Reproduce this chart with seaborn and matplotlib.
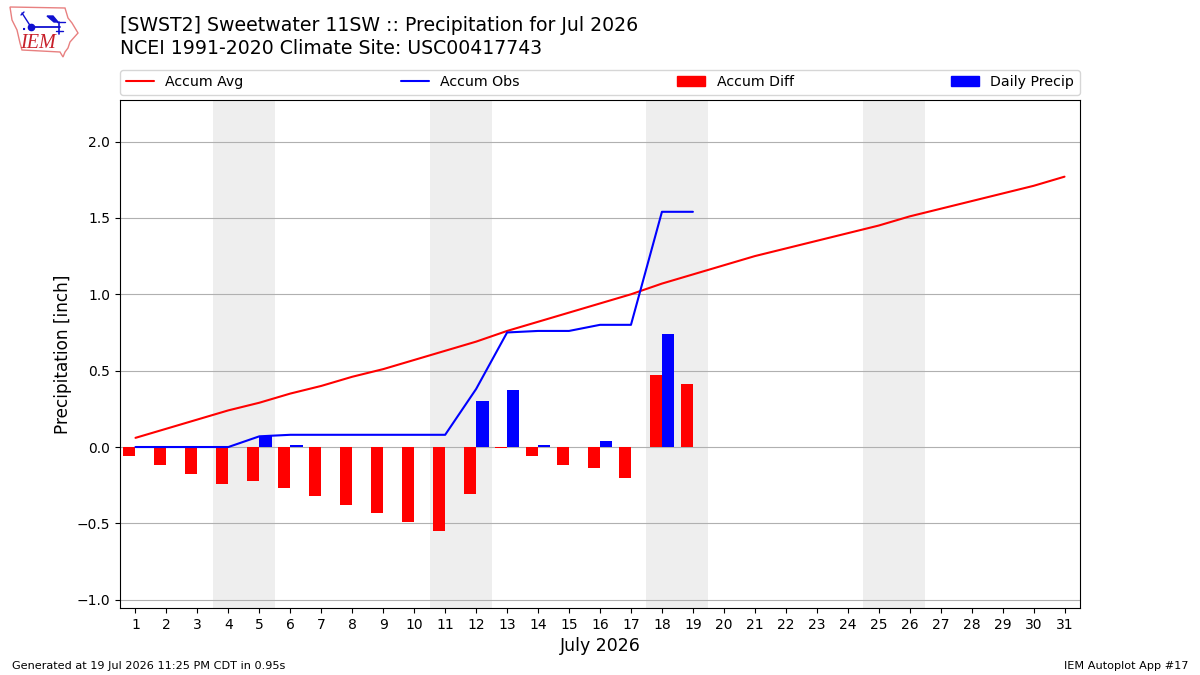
import numpy as np
import pandas as pd
import seaborn as sns
import matplotlib
matplotlib.use("Agg")
import matplotlib.pyplot as plt
from matplotlib.patches import Polygon

# Accumulated precipitation, inches, by day of July 2026
days = list(range(1, 32))
accum_avg = [0.06, 0.12, 0.18, 0.24, 0.29, 0.35, 0.40, 0.46, 0.51, 0.57, 0.63,
             0.69, 0.76, 0.82, 0.88, 0.94, 1.00, 1.07, 1.13, 1.19, 1.25, 1.30,
             1.35, 1.40, 1.45, 1.51, 1.56, 1.61, 1.66, 1.71, 1.77]
obs_days = list(range(1, 20))
accum_obs = [0.00, 0.00, 0.00, 0.00, 0.07, 0.08, 0.08, 0.08, 0.08, 0.08, 0.08,
             0.38, 0.75, 0.76, 0.76, 0.80, 0.80, 1.54, 1.54]
accum_diff = [-0.06, -0.12, -0.175, -0.24, -0.22, -0.27, -0.32, -0.38, -0.43,
              -0.49, -0.55, -0.31, -0.005, -0.06, -0.12, -0.14, -0.20, 0.47, 0.41]
daily_precip = [0.00, 0.00, 0.00, 0.00, 0.07, 0.01, 0.00, 0.00, 0.00, 0.00, 0.00,
                0.30, 0.375, 0.01, 0.00, 0.04, 0.00, 0.74, 0.00]
weekend_starts = [4, 11, 18, 25]

sns.set_theme(style="white", rc={"font.family": "DejaVu Sans"})
fig = plt.figure(figsize=(12, 6.75), dpi=100)
ax = fig.add_axes([0.1, 1 - 608 / 675, 0.8, 508 / 675])

# Weekend shading
for start in weekend_starts:
    ax.axvspan(start - 0.5, start + 1.5, color="#eeeeee", lw=0, zorder=0.1)

bars = pd.DataFrame({
    "day": obs_days * 2,
    "value": accum_diff + daily_precip,
    "series": ["Accum Diff"] * len(obs_days) + ["Daily Precip"] * len(obs_days),
})
sns.barplot(data=bars, x="day", y="value", hue="series", native_scale=True,
            palette={"Accum Diff": "red", "Daily Precip": "blue"},
            hue_order=["Accum Diff", "Daily Precip"], width=0.8, gap=0,
            saturation=1, errorbar=None, legend=False, ax=ax, zorder=2,
            linewidth=0)
sns.lineplot(x=days, y=accum_avg, color="red", lw=1.5, ax=ax, zorder=3,
             label="Accum Avg", errorbar=None)
sns.lineplot(x=obs_days, y=accum_obs, color="blue", lw=1.5, ax=ax, zorder=3,
             label="Accum Obs", errorbar=None)

ax.set_xlim(0.5, 31.5)
ax.set_ylim(-1.054, 2.272)
ax.set_xticks(days)
ax.set_xticklabels([str(d) for d in days])
ax.set_yticks([-1.0, -0.5, 0.0, 0.5, 1.0, 1.5, 2.0])
ax.tick_params(axis="both", labelsize=10, length=3.5, width=0.8, left=True,
               bottom=True, color="black", labelcolor="black", pad=3.5)
ax.set_axisbelow(True)
ax.grid(axis="y", color="#b0b0b0", lw=0.8)
ax.grid(axis="x", visible=False)
for spine in ax.spines.values():
    spine.set_color("black")
    spine.set_linewidth(0.8)
ax.set_xlabel("July 2026", fontsize=12.5, color="black", labelpad=4)
ax.set_ylabel("Precipitation [inch]", fontsize=12.2, color="black", labelpad=3)

line_handles, line_labels = ax.get_legend_handles_labels()
patch_handles = [plt.Rectangle((0, 0), 1, 1, color="red"),
                 plt.Rectangle((0, 0), 1, 1, color="blue")]
ax.legend(line_handles + patch_handles, line_labels + ["Accum Diff", "Daily Precip"],
          loc="lower left", bbox_to_anchor=(0, 1 + 5 / 508, 1, 0.05), ncol=4, mode="expand",
          borderaxespad=0, fontsize=10.2, frameon=True, framealpha=0.8,
          edgecolor="#cccccc", labelcolor="black")

fig.text(0.1, 1 - 31 / 675, "[SWST2] Sweetwater 11SW :: Precipitation for Jul 2026",
         fontsize=13.6, color="black", va="baseline", ha="left")
fig.text(0.1, 1 - 54 / 675, "NCEI 1991-2020 Climate Site: USC00417743",
         fontsize=13.6, color="black", va="baseline", ha="left")
fig.text(0.01, 1 - 669 / 675, "Generated at 19 Jul 2026 11:25 PM CDT in 0.95s",
         fontsize=8.1, color="black", va="baseline", ha="left")
fig.text(0.99, 1 - 669 / 675, "IEM Autoplot App #17",
         fontsize=8.1, color="black", va="baseline", ha="right")

# Iowa outline logo with a small weather-station glyph, in pixel coordinates
logo = fig.add_axes([0, 1 - 60 / 675, 80 / 1200, 60 / 675])
logo.set_xlim(0, 80)
logo.set_ylim(60, 0)
logo.axis("off")
outline = [(10, 7), (65, 8), (68, 18), (72, 23), (78, 33), (70, 42), (68, 48),
           (65, 52), (63, 57), (60, 52), (22, 50), (20, 43), (17, 30), (12, 20)]
logo.add_patch(Polygon(outline, closed=True, fill=False, ec="#e88080", lw=1))
logo.plot([31, 60], [27, 27], color="#1010d0", lw=1.3)
logo.plot([59, 59], [22, 34], color="#1010d0", lw=1.2)
logo.plot([22, 31], [13, 27], color="#1010d0", lw=1)
logo.plot([21, 24], [15, 12], color="#1010d0", lw=1)
logo.plot([57, 65], [22, 22], color="#1010d0", lw=1)
logo.plot([56, 63], [31, 31], color="#1010d0", lw=1)
logo.plot([31], [27], "o", color="#1010d0", ms=4.5)
logo.plot([23, 27], [29, 29], ":", color="#1010d0", lw=1.5)
logo.add_patch(Polygon([(47, 16), (53, 16), (58, 22), (54, 22)], color="#1010d0"))
logo.text(38, 44, "IEM", family="Liberation Serif", style="italic", color="#c8202a",
          fontsize=14.5, ha="center", va="center")

fig.savefig("out.png", dpi=100)
